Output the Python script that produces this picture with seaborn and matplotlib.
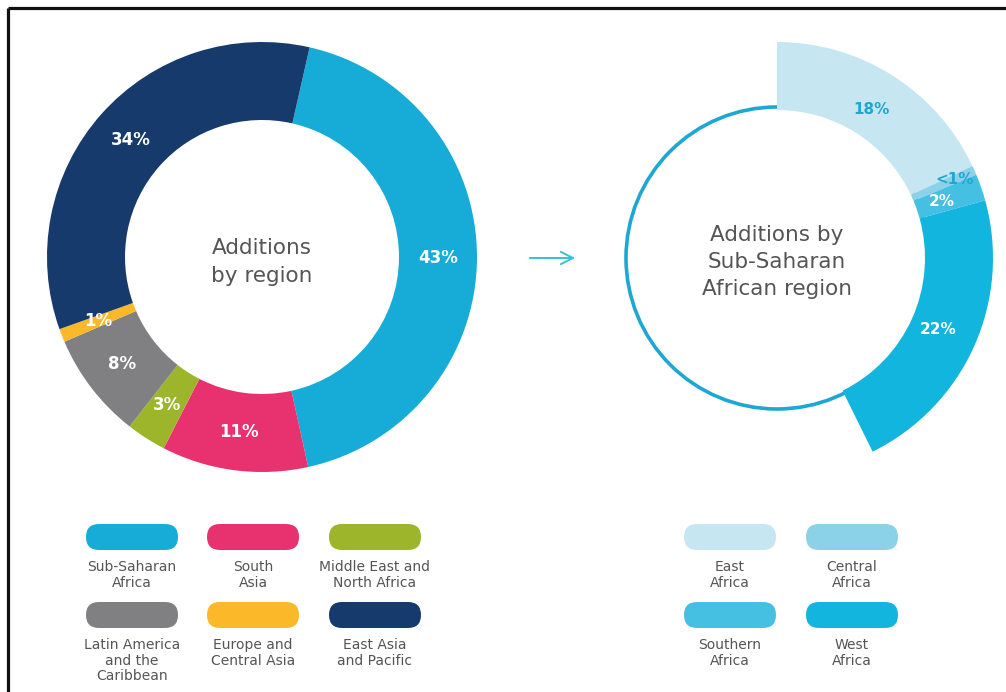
import numpy as np
import matplotlib
matplotlib.use("Agg")
import matplotlib.pyplot as plt
import seaborn as sns
from matplotlib.patches import FancyBboxPatch, Circle

# Share of additions by world region (percent)
regions = ["Sub-Saharan\nAfrica", "South\nAsia", "Middle East and\nNorth Africa",
           "Latin America\nand the\nCaribbean", "Europe and\nCentral Asia",
           "East Asia\nand Pacific"]
region_share = [43, 11, 3, 8, 1, 34]
region_labels = ["43%", "11%", "3%", "8%", "1%", "34%"]
region_colors = ["#17acd8", "#e8316f", "#9cb52a", "#808083", "#fbb92a", "#153a6b"]

# Breakdown of the Sub-Saharan share (percent of all additions)
ssa_regions = ["East\nAfrica", "Central\nAfrica", "Southern\nAfrica", "West\nAfrica"]
ssa_share = [18, 0.7, 2, 22]
ssa_labels = ["18%", "<1%", "2%", "22%"]
ssa_colors = ["#c6e7f1", "#8bd2e8", "#46c0e2", "#12b5dd"]
ssa_label_colors = ["#1ea7d3", "#1ea7d3", "white", "white"]

sns.set_theme(style="white")
plt.rcParams["font.family"] = ["DejaVu Sans"]

W, H = 1006, 692
fig = plt.figure(figsize=(W / 100, H / 100), dpi=100)
ax = fig.add_axes([0, 0, 1, 1])


def py(y):
    return H - y


TEXT_GREY = "#555555"

# ---- left donut: additions by region ----
c1 = (262, py(257))
r1, w1 = 215, 78
wedges1, _ = ax.pie(region_share, colors=region_colors, startangle=77.2,
                    counterclock=False, radius=r1, center=c1, frame=True,
                    wedgeprops=dict(width=w1, linewidth=0))
for wdg, txt in zip(wedges1, region_labels):
    ang = np.deg2rad((wdg.theta1 + wdg.theta2) / 2)
    rr = r1 - w1 / 2
    ax.text(c1[0] + rr * np.cos(ang), c1[1] + rr * np.sin(ang), txt,
            ha="center", va="center", color="white", fontsize=12,
            fontweight="bold")
ax.text(c1[0], py(262), "Additions\nby region", ha="center", va="center",
        color=TEXT_GREY, fontsize=15.5, linespacing=1.45)

# ---- arrow ----
ax.annotate("", xy=(578, py(258)), xytext=(527, py(258)),
            arrowprops=dict(arrowstyle="->", color="#3bbfd6", lw=1.4,
                            mutation_scale=22))

# ---- right donut: Sub-Saharan breakdown ----
c2 = (777, py(258))
r2, w2 = 216, 68
ax.add_patch(Circle(c2, 151, fill=False, ec="#1ea7d3", lw=2.6, zorder=0))
wedges2, _ = ax.pie([s / 100 for s in ssa_share], colors=ssa_colors,
                    normalize=False, startangle=90, counterclock=False,
                    radius=r2, center=c2, frame=True,
                    wedgeprops=dict(width=w2, linewidth=0, zorder=2))
label_shift = [-6, 12, -8, -6]
for wdg, txt, col, dr in zip(wedges2, ssa_labels, ssa_label_colors, label_shift):
    ang = np.deg2rad((wdg.theta1 + wdg.theta2) / 2)
    rr = r2 - w2 / 2 + dr
    ax.text(c2[0] + rr * np.cos(ang), c2[1] + rr * np.sin(ang), txt,
            ha="center", va="center", color=col, fontsize=11,
            fontweight="bold", zorder=3)
ax.text(c2[0], py(262), "Additions by\nSub-Saharan\nAfrican region",
        ha="center", va="center", color=TEXT_GREY, fontsize=15.5,
        linespacing=1.45)

# ---- pill legends ----
PILL_W, PILL_H = 92, 26


def pill(cx, cy, color, label):
    ax.add_patch(FancyBboxPatch((cx - PILL_W / 2, py(cy) - PILL_H / 2),
                                PILL_W, PILL_H,
                                boxstyle=f"round,pad=0,rounding_size={PILL_H / 2}",
                                fc=color, ec="none"))
    ax.text(cx, py(cy + 23), label, ha="center", va="top", color=TEXT_GREY,
            fontsize=10, linespacing=1.15)


left_cols = [132, 253, 375]
rows = [537, 615]
for i, (lab, col) in enumerate(zip(regions, region_colors)):
    pill(left_cols[i % 3], rows[i // 3], col, lab)

right_cols = [730, 852]
for i, (lab, col) in enumerate(zip(ssa_regions, ssa_colors)):
    pill(right_cols[i % 2], rows[i // 2], col, lab)

# ---- frame edges ----
ax.plot([8, W], [py(8), py(8)], color="#111111", lw=2.3, solid_capstyle="butt")
ax.plot([8, 8], [py(8), 0], color="#111111", lw=2.3, solid_capstyle="butt")

ax.set_xlim(0, W)
ax.set_ylim(0, H)
ax.set_aspect("equal")
ax.axis("off")

fig.savefig("out.png", dpi=100, facecolor="white")
